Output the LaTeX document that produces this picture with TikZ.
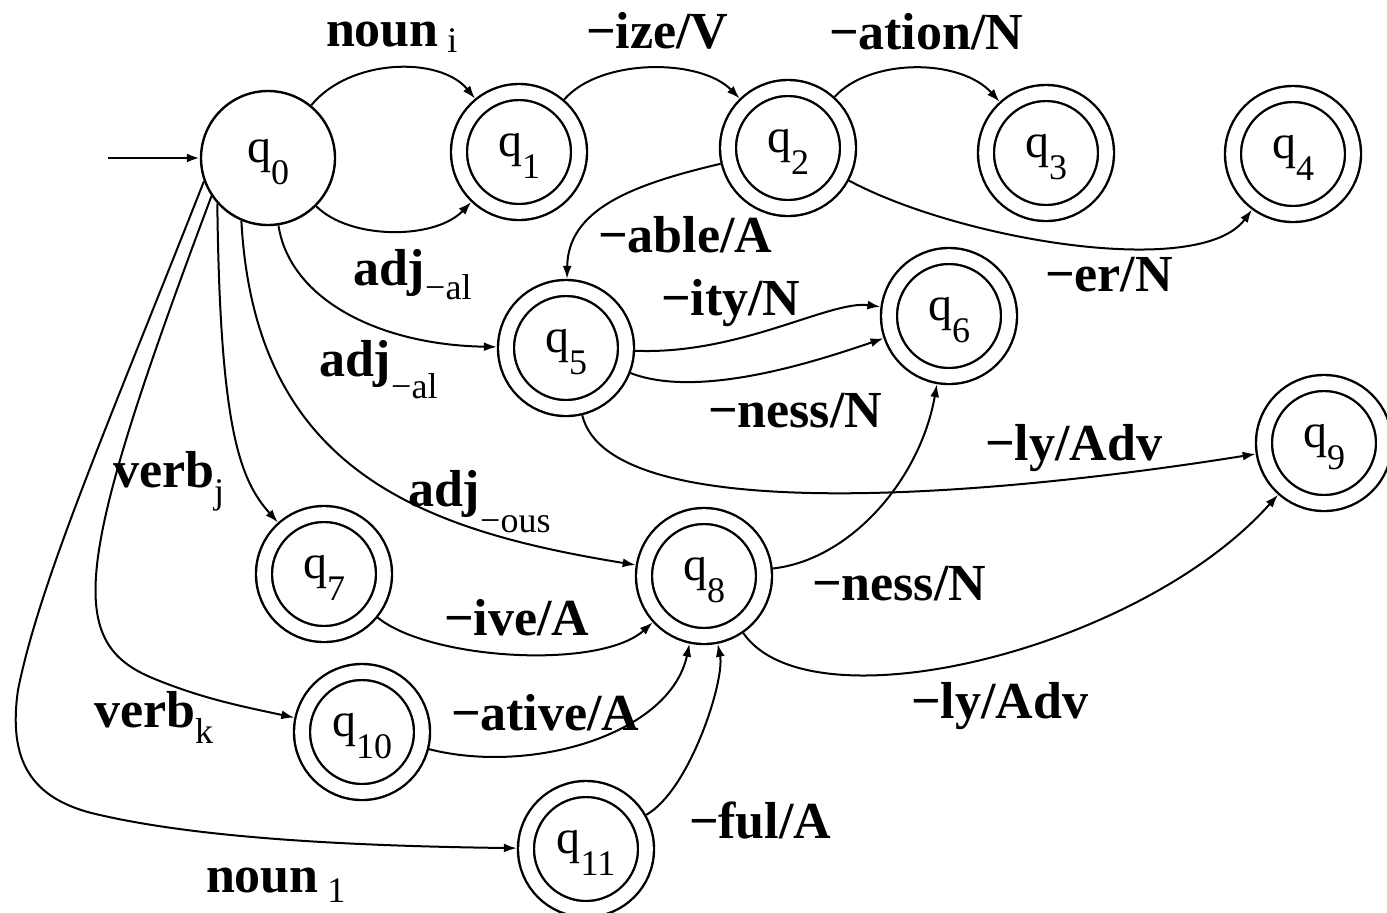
\documentclass[tikz,border=0pt]{standalone}
\usepackage{fontspec}
\setmainfont{Liberation Serif}
\usetikzlibrary{arrows.meta}

\tikzset{every picture/.style={line width=1pt}}
\tikzset{
  state/.style={draw,circle,line width=1.2pt,minimum size=67pt,inner sep=0pt,font=\fontsize{24pt}{24pt}\selectfont},
  accept/.style={state,minimum size=60pt,double,double distance=6.8pt,outer sep=4.6pt},
  edge/.style={-{Latex[length=6.5pt,width=4.5pt]},line width=1pt},
  lbl/.style={anchor=base west,inner sep=0pt,font=\fontsize{26pt}{26pt}\selectfont\bfseries}
}
\newcommand{\qsub}[1]{\raisebox{-2pt}[0pt][0pt]{q\raisebox{-11pt}{\fontsize{18pt}{18pt}\selectfont #1}}}
\newcommand{\lsub}[2][7pt]{\raisebox{-#1}{\fontsize{18pt}{18pt}\selectfont\mdseries #2}}

\begin{document}
\begin{tikzpicture}[x=0.5pt,y=0.5pt,yscale=-1]
\useasboundingbox (0,0) rectangle (1387,912);

%States
\node [state] (q0) at (268,158) {\qsub{0}};
\node [accept] (q1) at (519,152) {\qsub{1}};
\node [accept] (q2) at (788,148) {\qsub{2}};
\node [accept] (q3) at (1046,153) {\qsub{3}};
\node [accept] (q4) at (1293,154) {\qsub{4}};
\node [accept] (q5) at (566,348) {\qsub{5}};
\node [accept] (q6) at (949,316) {\qsub{6}};
\node [accept] (q7) at (324,574) {\qsub{7}};
\node [accept] (q8) at (704,576) {\qsub{8}};
\node [accept] (q9) at (1324,443) {\qsub{9}};
\node [accept] (q10) at (362,732) {\qsub{10}};
\node [accept] (q11) at (586,849) {\qsub{11}};

%Start arrow
\coordinate (s0) at (108,158);
\draw [edge,line width=1.4pt] (s0) -- (q0);

%Transitions
\draw [edge] (q0) .. controls (350,58) and (440,56) .. (q1);
\draw [edge] (q0) .. controls (350,240) and (435,240) .. (q1);
\draw [edge] (q1) .. controls (600,58) and (700,58) .. (q2);
\draw [edge] (q2) .. controls (870,58) and (960,58) .. (q3);
\draw [edge] (q2) .. controls (960,240) and (1200,280) .. (q4);
\draw [edge] (q2) .. controls (630,185) and (568,210) .. (q5);
\draw [edge] (q0) .. controls (290,300) and (380,345) .. (q5);
\draw [edge] (q5) .. controls (740,355) and (830,300) .. (q6);
\draw [edge] (q5) .. controls (700,400) and (820,360) .. (q6);
\draw [edge] (q5) .. controls (610,530) and (1000,495) .. (q9);
\draw [edge] (q0.222) .. controls (220,430) and (240,480) .. (q7);
\draw [edge] (q0.247) .. controls (255,470) and (420,530) .. (q8);
\draw [edge] (q7) .. controls (430,660) and (600,670) .. (q8);
\draw [edge] (q0.214) .. controls (75,560) and (65,640) .. (150,677) .. controls (200,698) and (240,706) .. (q10);
\draw [edge] (q0.200) .. controls (110,420) and (40,580) .. (18,690) .. controls (8,760) and (30,800) .. (100,815) .. controls (200,838) and (350,846) .. (q11);
\draw [edge] (q10) .. controls (530,775) and (670,735) .. (q8);
\draw [edge] (q11) .. controls (690,790) and (725,680) .. (q8);
\draw [edge] (q8) .. controls (850,560) and (920,480) .. (q6);
\draw [edge] (q8) .. controls (810,730) and (1140,650) .. (q9);

% Text Node
\node [lbl] (l01a) at (325,46) {noun\,\lsub[3pt]{i}};
\node [lbl] (l01b) at (352,285) {adj\lsub{−al}};
\node [lbl] (l12) at (585,48) {−ize/V};
\node [lbl] (l23) at (828,49) {−ation/N};
\node [lbl] (l24) at (1044,291) {−er/N};
\node [lbl] (l25) at (597,252) {−able/A};
\node [lbl] (l05) at (318,376) {adj\lsub[11pt]{−al}};
\node [lbl] (l56a) at (660,315) {−ity/N};
\node [lbl] (l56b) at (707,427) {−ness/N};
\node [lbl] (l59) at (984,460) {−ly/Adv};
\node [lbl] (l07) at (112,487) {verb\lsub[8pt]{j}};
\node [lbl] (l08) at (407,506) {adj\lsub[13pt]{−ous}};
\node [lbl] (l78) at (443,635) {−ive/A};
\node [lbl] (l86) at (811,600) {−ness/N};
\node [lbl] (l010) at (93,727) {verb\lsub[8pt]{k}};
\node [lbl] (l108) at (450,730) {−ative/A};
\node [lbl] (l89) at (910,718) {−ly/Adv};
\node [lbl] (l118) at (688,838) {−ful/A};
\node [lbl] (l011) at (205,892) {noun\,\lsub[5pt]{1}};

\end{tikzpicture}
\end{document}
